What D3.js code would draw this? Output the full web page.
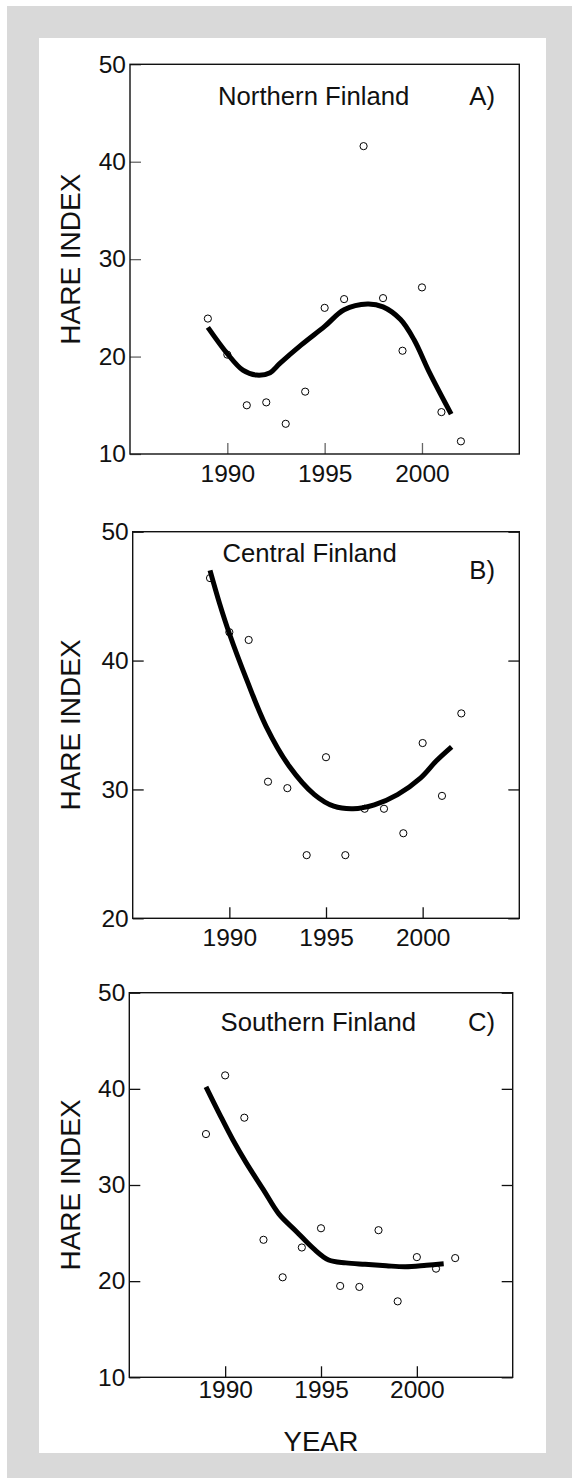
<!DOCTYPE html>
<html lang="en">
<head>
    <meta charset="UTF-8">
    <title>Hare index in Finland</title>
    <script src="https://d3js.org/d3.v7.min.js"></script>
    <style>
        body {
            margin: 0;
            padding: 0;
            background: #fff;
            font-family: "Liberation Sans", Arial, sans-serif;
        }

        .tick text {
            font-size: 24.5px;
            fill: #111;
        }

        .frame {
            fill: none;
            stroke: #111;
            stroke-width: 1.4;
        }

        .fit {
            fill: none;
            stroke: #000;
            stroke-width: 5;
            stroke-linejoin: round;
        }

        .pt {
            fill: #fff;
            stroke: #000;
            stroke-width: 1;
        }
    </style>
</head>
<body>
    <svg id="chart" width="572" height="1478"></svg>

    <script>
        const width = 572, height = 1478;

        // observed years (same for all three regions)
        const years = [1989, 1990, 1991, 1992, 1993, 1994, 1995, 1996, 1997, 1998, 1999, 2000, 2001, 2002];
        const xTicks = [1990, 1995, 2000];

        // A) Northern Finland
        const northValues = [23.9, 20.2, 15.0, 15.3, 13.1, 16.4, 25.0, 25.9, 41.6, 26.0, 20.6, 27.1, 14.3, 11.3];
        const northFitYears = [1989.0, 1990.0, 1990.8, 1991.5, 1992.2, 1992.7, 1993.8, 1995.0, 1996.0, 1997.2, 1998.0, 1998.9, 1999.6, 2000.4, 2001.5];
        const northFitValues = [23.0, 20.3, 18.6, 18.1, 18.35, 19.3, 21.2, 23.1, 24.8, 25.4, 25.1, 23.8, 21.7, 18.3, 14.1];
        const northTicks = [10, 20, 30, 40, 50];

        // B) Central Finland
        const centralValues = [46.4, 42.2, 41.6, 30.6, 30.1, 24.9, 32.5, 24.9, 28.5, 28.5, 26.6, 33.6, 29.5, 35.9];
        const centralFitYears = [1989.0, 1989.5, 1990.0, 1990.9, 1991.9, 1993.1, 1994.4, 1995.4, 1996.4, 1997.5, 1998.7, 1999.9, 2000.7, 2001.5];
        const centralFitValues = [47.0, 44.4, 42.1, 38.5, 34.9, 31.8, 29.6, 28.7, 28.5, 28.8, 29.6, 30.9, 32.2, 33.3];
        const centralTicks = [20, 30, 40, 50];

        // C) Southern Finland
        const southValues = [35.3, 41.4, 37.0, 24.3, 20.4, 23.5, 25.5, 19.5, 19.4, 25.3, 17.9, 22.5, 21.3, 22.4];
        const southFitYears = [1989.0, 1989.7, 1990.4, 1991.1, 1992.0, 1992.8, 1993.7, 1994.6, 1995.4, 1996.3, 1997.3, 1998.4, 1999.4, 2000.5, 2001.4];
        const southFitValues = [40.2, 37.4, 34.7, 32.3, 29.5, 27.0, 25.2, 23.4, 22.2, 21.9, 21.75, 21.6, 21.5, 21.65, 21.8];
        const southTicks = [10, 20, 30, 40, 50];

        const panels = [
            {
                title: "Northern Finland", tag: "A)", values: northValues,
                fitYears: northFitYears, fitValues: northFitValues,
                yDomain: [10, 50], yTicks: northTicks, rightTicks: false, tickColor: "#666",
                left: 130, top: 64.3, right: 519.3, bottom: 454,
                titleX: 218, titleY: 105, tagY: 105, xPad: 11
            },
            {
                title: "Central Finland", tag: "B)", values: centralValues,
                fitYears: centralFitYears, fitValues: centralFitValues,
                yDomain: [20, 50], yTicks: centralTicks, rightTicks: true, tickColor: "#111",
                left: 132.7, top: 531.7, right: 519.3, bottom: 918.3,
                titleX: 222.5, titleY: 561.5, tagY: 578.5, xPad: 10
            },
            {
                title: "Southern Finland", tag: "C)", values: southValues,
                fitYears: southFitYears, fitValues: southFitValues,
                yDomain: [10, 50], yTicks: southTicks, rightTicks: true, tickColor: "#111",
                left: 129.3, top: 992.7, right: 512.7, bottom: 1377.3,
                titleX: 220.5, titleY: 1031, tagY: 1031, xPad: 3
            }
        ];

        const svg = d3.select("#chart");

        // grey mat with white card
        svg.append("rect").attr("x", 7).attr("y", 6).attr("width", width - 7).attr("height", height - 6).attr("fill", "#d9d9d9");
        svg.append("rect").attr("x", 39).attr("y", 38).attr("width", 507).attr("height", 1415).attr("fill", "#fff");

        panels.forEach(p => {
            const x = d3.scaleLinear().domain([1985, 2005]).range([p.left, p.right]);
            const y = d3.scaleLinear().domain(p.yDomain).range([p.bottom, p.top]);
            const g = svg.append("g");

            // left axis, ticks pointing inwards
            const yAxis = g.append("g")
                .attr("transform", `translate(${p.left},0)`)
                .call(d3.axisLeft(y).tickValues(p.yTicks).tickSize(-11).tickPadding(4).tickFormat(d3.format("d")));
            yAxis.select(".domain").remove();
            yAxis.selectAll("line").attr("stroke", p.tickColor).attr("stroke-width", 1.3);
            yAxis.selectAll("text").attr("font-family", "Liberation Sans, Arial, sans-serif");

            if (p.rightTicks) {
                const rAxis = g.append("g")
                    .attr("transform", `translate(${p.right},0)`)
                    .call(d3.axisRight(y).tickValues(p.yTicks).tickSize(-11).tickFormat(""));
                rAxis.select(".domain").remove();
                rAxis.selectAll("line").attr("stroke", p.tickColor).attr("stroke-width", 1.3);
            }

            const xAxis = g.append("g")
                .attr("transform", `translate(0,${p.bottom})`)
                .call(d3.axisBottom(x).tickValues(xTicks).tickSize(-11).tickPadding(p.xPad).tickFormat(d3.format("d")));
            xAxis.select(".domain").remove();
            xAxis.selectAll("line").attr("stroke", p.tickColor).attr("stroke-width", 1.3);
            xAxis.selectAll("text").attr("font-family", "Liberation Sans, Arial, sans-serif");

            g.append("rect").attr("class", "frame")
                .attr("x", p.left).attr("y", p.top)
                .attr("width", p.right - p.left).attr("height", p.bottom - p.top);

            // observed points
            g.selectAll("circle")
                .data(years.map((yr, i) => [yr, p.values[i]]))
                .enter().append("circle")
                .attr("class", "pt")
                .attr("cx", d => x(d[0]))
                .attr("cy", d => y(d[1]))
                .attr("r", 3.6);

            // smoothed trend on top
            const line = d3.line().x(d => x(d[0])).y(d => y(d[1])).curve(d3.curveCatmullRom);
            g.append("path").attr("class", "fit")
                .attr("d", line(p.fitYears.map((yr, i) => [yr, p.fitValues[i]])));

            g.append("text")
                .attr("x", p.titleX).attr("y", p.titleY)
                .attr("font-size", 25.7).attr("fill", "#111")
                .text(p.title);
            g.append("text")
                .attr("x", 495).attr("y", p.tagY)
                .attr("text-anchor", "end")
                .attr("font-size", 25.7).attr("fill", "#111")
                .text(p.tag);

            g.append("text")
                .attr("transform", `translate(79.5,${(p.top + p.bottom) / 2}) rotate(-90)`)
                .attr("text-anchor", "middle")
                .attr("font-size", 28).attr("fill", "#111")
                .text("HARE INDEX");
        });

        svg.append("text")
            .attr("x", 321).attr("y", 1451)
            .attr("text-anchor", "middle")
            .attr("font-size", 27.5).attr("fill", "#111")
            .text("YEAR");
    </script>
</body>
</html>
